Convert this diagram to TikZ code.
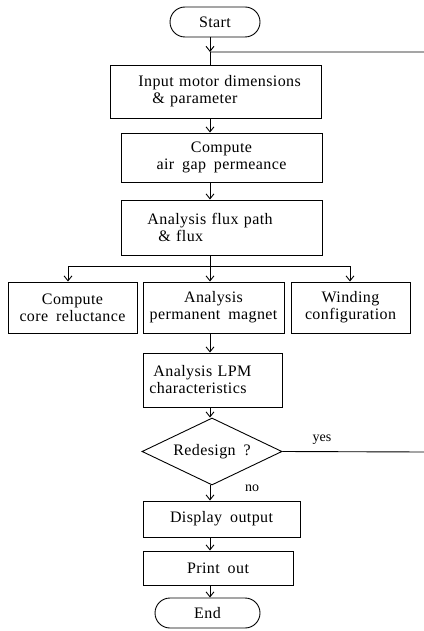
\documentclass[tikz,border=0pt]{standalone}
\usepackage{fontspec}
\setmainfont{Liberation Serif}[LetterSpace=2.5,WordSpace=1.8]
\newfontfamily\plainserif{Liberation Serif}
\newcommand\myboxfont{\fontsize{16}{17}\selectfont\hyphenpenalty 10000 }
\usetikzlibrary{shapes.geometric,shapes.misc,arrows.meta}
\begin{document}
\begin{tikzpicture}[x=1pt,y=-1pt,
  box/.style={draw, line width=0.9pt, inner sep=2pt, font=\myboxfont, align=center},
  lbox/.style={box, align=left, anchor=west, inner xsep=4pt},
  term/.style={box, rounded rectangle},
  dec/.style={draw, line width=0.9pt, diamond, aspect=2.1, inner sep=0pt, font=\myboxfont},
  arr/.style={line width=0.9pt, -{Straight Barb[length=5pt,width=8pt]}},
  ln/.style={line width=0.9pt},
  lab/.style={font=\plainserif\fontsize{14}{15}\selectfont, inner sep=0pt}]
\useasboundingbox (0,0) rectangle (423,631);
\node[term, minimum width=94, minimum height=30] (start) at (215,22) {Start};
\node[lbox, minimum width=211, minimum height=53, text width=203] (input) at (110,91.5) {\hspace{24pt}Input motor dimensions\\\hspace{38pt}\& parameter};
\node[box, minimum width=201, minimum height=49] (comp) at (221.5,157.5) {Compute\\air gap permeance};
\node[lbox, minimum width=201, minimum height=55, text width=193] (flux) at (121,227.5) {\hspace{22pt}Analysis flux path\\\hspace{33pt}\& flux};
\node[box, minimum width=129, minimum height=51] (core) at (72.5,307.5) {Compute\\core reluctance};
\node[box, minimum width=141, minimum height=51] (mag) at (213.5,307.5) {Analysis\\permanent magnet};
\node[box, minimum width=119, minimum height=51] (wind) at (350.5,307.5) {Winding\\configuration};
\node[lbox, minimum width=139, minimum height=54, text width=131] (lpm) at (143,380) {\hspace{6pt}Analysis LPM\\\hspace{2pt}characteristics};
\node[dec, minimum width=140, minimum height=67] (dia) at (212,451.5) {Redesign ?};
\node[box, minimum width=157, minimum height=36] (disp) at (221.5,519) {Display output};
\node[box, minimum width=150, minimum height=34] (print) at (218,568) {Print out};
\node[term, minimum width=109, minimum height=30] (end) at (207.5,613) {End};
\node[lab] (yes) at (322,440) {yes};
\node[lab] (no) at (252,488) {no};
\coordinate (ax) at (210,0);
\coordinate (j) at (210,52);
\coordinate (br) at (210,266);
\coordinate (bl) at (68,266);
\coordinate (bR) at (350,266);
\coordinate (rt) at (425,452);
\draw[arr] (start.south -| ax) -- (j);
\draw[ln] (j) -- (input.north -| ax);
\draw[arr] (input.south -| ax) -- (comp.north -| ax);
\draw[arr] (comp.south -| ax) -- (flux.north -| ax);
\draw[ln] (flux.south -| ax) -- (br);
\draw[arr] (br) -- (mag.north -| ax);
\draw[arr] (br) -- (bl) -- (core.north -| bl);
\draw[arr] (br) -- (bR) -- (wind.north -| bR);
\draw[arr] (mag.south -| ax) -- (lpm.north -| ax);
\draw[arr] (lpm.south -| ax) -- (dia.north -| ax);
\draw[arr] (dia.south -| ax) -- (disp.north -| ax);
\draw[arr] (disp.south -| ax) -- (print.north -| ax);
\draw[arr] (print.south -| ax) -- (end.north -| ax);
\draw[ln] (dia.east) -- (rt) |- (j);
\end{tikzpicture}
\end{document}
